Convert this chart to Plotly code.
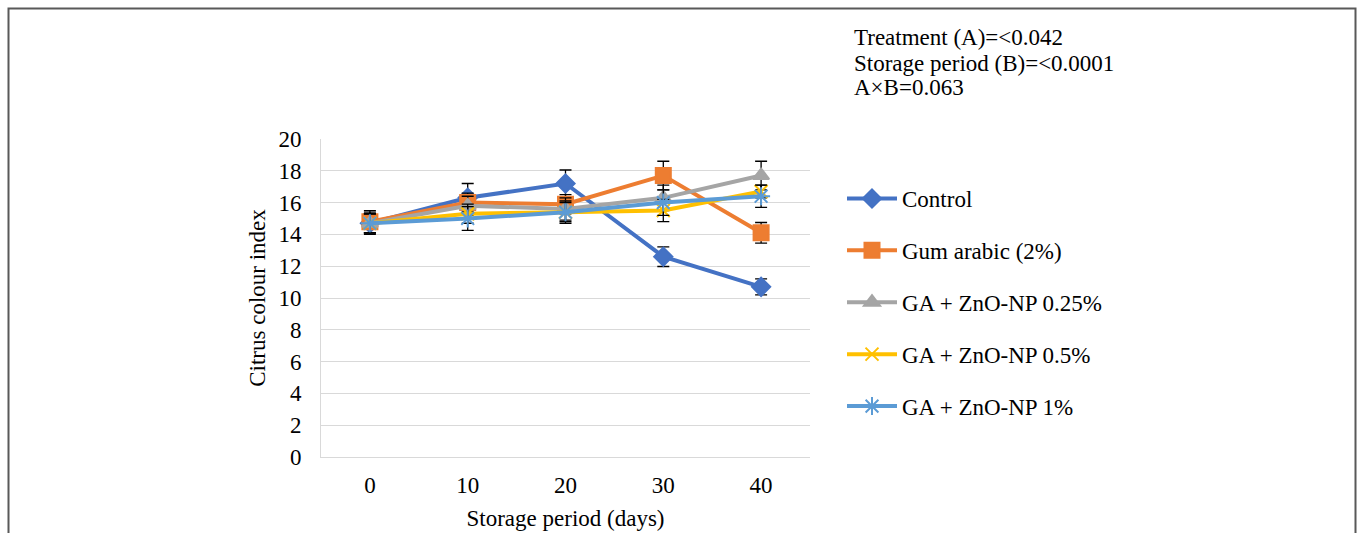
import plotly.graph_objects as go

days = ["0", "10", "20", "30", "40"]

series_names = ["Control", "Gum arabic (2%)", "GA + ZnO-NP 0.25%", "GA + ZnO-NP 0.5%", "GA + ZnO-NP 1%"]
control = [14.7, 16.3, 17.2, 12.6, 10.7]
control_err = [0.7, 0.9, 0.85, 0.62, 0.5]
gum = [14.8, 16.0, 15.9, 17.7, 14.1]
gum_err = [0.7, 0.6, 0.6, 0.9, 0.65]
ga025 = [14.7, 15.8, 15.6, 16.3, 17.7]
ga025_err = [0.6, 0.6, 0.7, 0.8, 0.9]
ga05 = [14.7, 15.3, 15.4, 15.5, 16.7]
ga05_err = [0.6, 0.6, 0.7, 0.7, 0.4]
ga1 = [14.7, 15.0, 15.4, 16.0, 16.4]
ga1_err = [0.6, 0.75, 0.6, 0.8, 0.7]

y_ticks = [0, 2, 4, 6, 8, 10, 12, 14, 16, 18, 20]
stats_lines = ["Treatment (A)=<0.042", "Storage period (B)=<0.0001", "A×B=0.063"]

values = [control, gum, ga025, ga05, ga1]
errors = [control_err, gum_err, ga025_err, ga05_err, ga1_err]
colors = ["#4472C4", "#ED7D31", "#A5A5A5", "#FFC000", "#5B9BD5"]
symbols = ["diamond", "square", "triangle-up", "x-thin-open", "asterisk-open"]
sizes = [14, 15, 14, 13, 15]

FONT = "Liberation Serif"
FS = 23

W, H = 1360, 533
L, R, T, B = 321, 550, 139, 76
pw, ph = W - L - R, H - T - B

def px_x(x):
    return (x - L) / pw

def px_y(y):
    return (H - B - y) / ph

fig = go.Figure()
for i, name in enumerate(series_names):
    fig.add_trace(go.Scatter(
        x=days, y=values[i], name=name, mode="lines+markers",
        legendgroup=str(i),
        line=dict(color=colors[i], width=4),
        marker=dict(symbol=symbols[i], size=sizes[i], color=colors[i],
                    line=dict(color=colors[i], width=2)),
        error_y=dict(type="data", array=errors[i], visible=True,
                     color="black", thickness=1.3, width=6),
    ))

annotations = []
for k, line in enumerate(stats_lines):
    annotations.append(dict(
        text=line, x=px_x(852), y=px_y(38 + 25 * k), xref="paper", yref="paper",
        xanchor="left", yanchor="middle", showarrow=False,
        font=dict(family=FONT, size=FS, color="black")))

fig.update_layout(
    width=W, height=H,
    margin=dict(l=L, r=R, t=T, b=B, autoexpand=False),
    paper_bgcolor="white", plot_bgcolor="white",
    font=dict(family=FONT, size=FS, color="black"),
    showlegend=True,
    legend=dict(x=px_x(842), y=px_y(177), xanchor="left", yanchor="top",
                font=dict(family=FONT, size=FS, color="black"),
                tracegroupgap=19, itemwidth=50, bgcolor="rgba(0,0,0,0)"),
    annotations=annotations,
    shapes=[dict(type="rect", xref="paper", yref="paper",
                 x0=px_x(8.5), x1=px_x(1355.5), y0=px_y(545), y1=px_y(8.5),
                 line=dict(color="#595959", width=2), fillcolor="rgba(0,0,0,0)",
                 layer="below")],
    xaxis=dict(type="category", range=[-0.5, 4.5], showgrid=False, automargin=False,
               showline=True, linecolor="#d9d9d9", linewidth=1,
               ticks="", ticklabelstandoff=7,
               tickfont=dict(family=FONT, size=FS, color="black"),
               title=dict(text="Storage period (days)", standoff=13,
                          font=dict(family=FONT, size=FS, color="black"))),
    yaxis=dict(range=[0, 20], tickvals=y_ticks, showgrid=True, automargin=False,
               gridcolor="#d9d9d9", gridwidth=1,
               showline=True, linecolor="#d9d9d9", linewidth=1,
               zeroline=False, ticks="", ticklabelstandoff=14,
               tickfont=dict(family=FONT, size=FS, color="black"),
               title=dict(text="Citrus colour index", standoff=6,
                          font=dict(family=FONT, size=FS, color="black"))),
)

fig.write_html("out.html")
